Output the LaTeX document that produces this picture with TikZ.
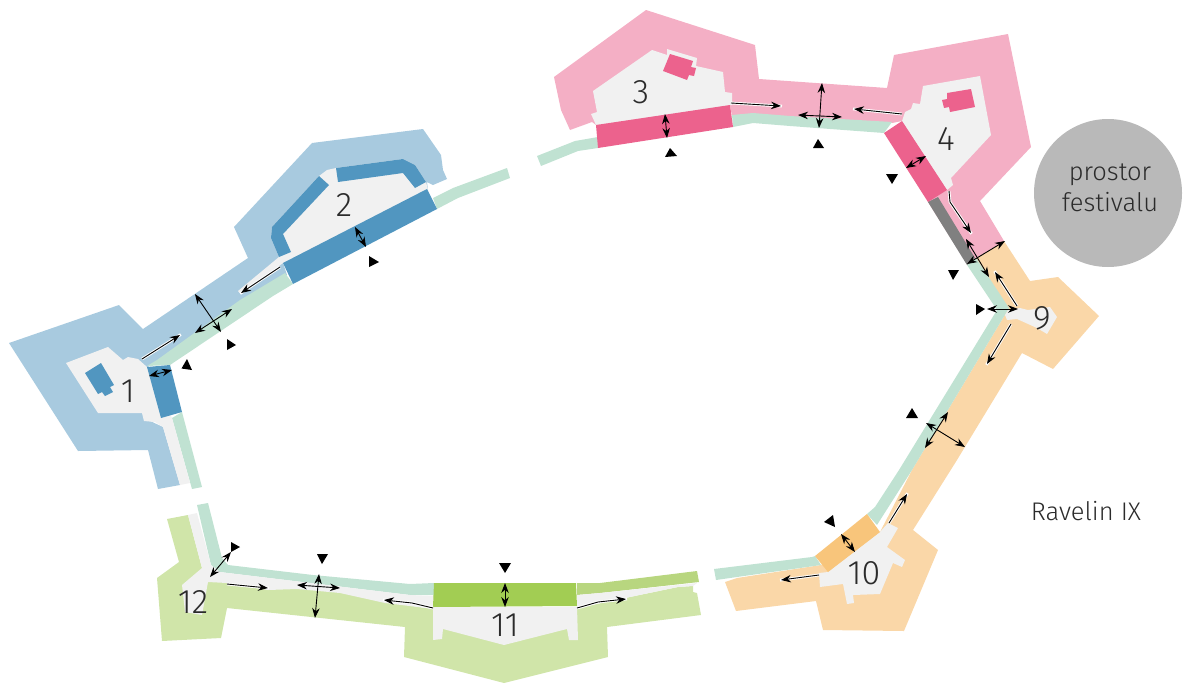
\documentclass[tikz,border=0pt]{standalone}
\usepackage{fontspec}
\setmainfont{Fira Sans}[UprightFont=* Light]
\usetikzlibrary{arrows.meta}
\definecolor{lblue}{HTML}{A8CADF}\definecolor{dblue}{HTML}{5196C0}
\definecolor{lpink}{HTML}{F4AFC5}\definecolor{dpink}{HTML}{EC628D}
\definecolor{lorange}{HTML}{FAD7A8}\definecolor{dorange}{HTML}{F8C57B}
\definecolor{lgreen}{HTML}{D0E5A9}\definecolor{mgreen}{HTML}{B8D67F}\definecolor{dgreen}{HTML}{A2CD53}
\definecolor{teal1}{HTML}{C0E2D2}\definecolor{yard}{HTML}{F1F1F1}\definecolor{wallgrey}{HTML}{808080}
\definecolor{festgrey}{HTML}{B9B9B9}\definecolor{txt}{HTML}{2B2B2B}
\tikzset{
  both/.style={line width=0.9pt,{Stealth[length=10pt,width=7.5pt]}-{Stealth[length=10pt,width=7.5pt]}},
  one/.style={line width=0.9pt,-{Stealth[length=10pt,width=7.5pt]},preaction={draw=white,line width=2.8pt,-,shorten >=-1pt}},
  mark tri/.style={fill=black,draw=none},
  num/.style={text=txt,font=\fontsize{34}{34}\selectfont,inner sep=0pt},
  lab/.style={text=txt,font=\fontsize{25.5}{31}\selectfont,inner sep=0pt,align=center}
}
\begin{document}
\begin{tikzpicture}[x=1pt,y=-1pt]
\useasboundingbox (0,0) rectangle (1186,683);
% light fortification masses
\fill[lblue] (9,343)--(119,305)--(143,329)--(248,258)--(234,227)--(312,143)--(423,129)--(441,155)--(443,170)--(447,179)--(433,185)--(427,182)--(428,190)--(283,263)--(287,275)--(240,302)--(148,367)--(148,420)--(163,427)--(180,485)--(158,489)--(148,450)--(78,451)--cycle;
\fill[lpink] (554,77)--(646,10)--(755,45)--(759,79)--(887,88)--(894,55)--(1008,34)--(1031,147)--(980,201)--(1004,241)--(967,264)--(928,202)--(902,121)--(892,123)--(790,117)--(753,114)--(732,116)--(730,105)--(596,125)--(592,122)--(570,130)--(561,110)--cycle;
\fill[lorange] (1004,241)--(1030,281)--(1058,277)--(1099,316)--(1053,369)--(1022,353)--(957,460)--(913,530)--(938,550)--(904,631)--(823,630)--(816,601)--(736,611)--(725,582)--(737,578)--(821,565)--(880,532)--(912,470)--(1003,318)--(1008,308)--(967,264)--cycle;
\fill[lgreen] (167,519)--(188,515)--(202,568)--(208,582)--(227,582)--(268,589)--(297,588)--(340,592)--(385,602)--(433,609)--(577,608)--(678,587)--(693,586)--(693,592)--(697,593)--(701,615)--(607,627)--(608,657)--(504,683)--(404,657)--(405,627)--(227,608)--(221,638)--(162,641)--(157,578)--(179,562)--cycle;
% teal strips
\fill[teal1] (147,366)--(157,360)--(240,300)--(285,273)--(293,284)--(273,296)--(170,365)--cycle;
\fill[teal1] (172,418)--(182,412)--(202,487)--(192,489)--cycle;
\fill[teal1] (433,198)--(453,188)--(507,168)--(510,178)--(458,198)--(437,209)--cycle;
\fill[teal1] (537,156)--(575,141)--(598,137)--(598,148)--(578,151)--(541,166)--cycle;
\fill[teal1] (732,115)--(753,113)--(790,116)--(892,122)--(884,133)--(790,126)--(753,123)--(733,127)--cycle;
\fill[teal1] (967,265)--(976,258)--(1009,308)--(1003,318)--(912,470)--(877,525)--(867,514)--(875,507)--(899,470)--(997,310)--cycle;
\fill[teal1] (714,569)--(812,557)--(815,556)--(821,565)--(716,580)--cycle;
\fill[teal1] (197,505)--(208,503)--(222,558)--(228,565)--(313,575)--(410,584)--(434,583)--(434,595)--(410,595)--(228,573)--(220,572)--(211,565)--cycle;
\fill[mgreen] (577,583)--(600,583)--(697,571)--(699,582)--(600,593)--(577,595)--cycle;
% yards
\fill[yard] (66,363)--(108,347)--(123,360)--(128,357)--(138,359)--(147,367)--(172,418)--(190,483)--(180,485)--(163,427)--(155,422)--(144,421)--(142,413)--(98,413)--cycle;
\fill[yard] (279,257)--(271,238)--(272,227)--(319,176)--(327,170)--(336,168)--(403,159)--(415,165)--(426,182)--(428,190)--(283,263)--(270,273)--(241,294)--(238,291)--cycle;
\fill[yard] (593,91)--(652,50)--(667,55)--(667,49)--(697,58)--(696,66)--(723,72)--(725,92)--(732,93)--(732,105)--(596,125)--(591,114)--(597,112)--cycle;
\fill[yard] (923,86)--(980,76)--(991,135)--(951,178)--(953,185)--(947,190)--(902,121)--(905,112)--(911,109)--(913,103)--(920,104)--cycle;
\fill[yard] (1005,315)--(1008,310)--(1020,308)--(1028,310)--(1050,307)--(1057,317)--(1047,334)--(1037,328)--(1017,319)--(1007,320)--cycle;
\fill[yard] (828,572)--(880,532)--(888,523)--(898,528)--(887,547)--(905,560)--(902,567)--(893,563)--(880,594)--(853,595)--(854,603)--(847,604)--(843,584)--(820,587)--(819,573)--cycle;
\fill[yard] (433,607)--(577,607)--(578,640)--(569,640)--(567,629)--(504,645)--(443,629)--(442,639)--(433,640)--cycle;
\fill[yard] (188,515)--(197,513)--(211,565)--(220,572)--(228,573)--(410,595)--(434,596)--(434,609)--(385,603)--(340,593)--(297,589)--(268,590)--(227,583)--(208,582)--(202,615)--(185,612)--(182,585)--(202,568)--cycle;
\fill[yard] (577,595)--(600,593)--(697,583)--(693,586)--(678,587)--(577,608)--cycle;
% dark ramparts
\fill[dblue] (147,367)--(170,365)--(182,412)--(161,418)--cycle;
\fill[dblue] (85,373)--(101,363)--(114,385)--(110,387)--(113,392)--(105,396)--(102,392)--(98,394)--cycle;
\fill[dblue] (283,263)--(427,189)--(437,209)--(293,284)--cycle;
\fill[dblue] (319,176)--(329,185)--(283,234)--(291,252)--(279,257)--(271,238)--(272,227)--cycle;
\fill[dblue] (336,168)--(403,159)--(415,165)--(426,182)--(415,188)--(403,173)--(338,182)--cycle;
\fill[dpink] (596,125)--(730,105)--(733,127)--(598,148)--cycle;
\fill[dpink] (670,54)--(693,61)--(691,67)--(696,68)--(694,76)--(689,75)--(687,80)--(663,71)--cycle;
\fill[dpink] (884,133)--(902,121)--(947,190)--(928,202)--cycle;
\fill[dpink] (947,93)--(971,89)--(975,107)--(950,112)--(949,107)--(944,108)--(942,100)--(947,99)--cycle;
\fill[wallgrey] (928,202)--(938,197)--(975,258)--(967,265)--cycle;
\fill[dorange] (815,556)--(867,514)--(880,532)--(828,572)--cycle;
\fill[dgreen] (434,583)--(576,583)--(577,606)--(433,607)--cycle;
% festival circle
\node[circle,fill=festgrey,minimum size=148pt,inner sep=0pt] (fest) at (1108,193) {};
% arrows
\draw[one] (142,359)--(180,335);
\draw[one] (280,267)--(241,293);
\draw[one] (731,103)--(781,106);
\draw[one] (902,114)--(854,109);
\draw[one] (949,191)--(950,202)--(971,233);
\draw[one] (1017,306)--(995,272);
\draw[one] (1011,324)--(987,364);
\draw[one] (819,575)--(781,580);
\draw[one] (889,523)--(907,494);
\draw[one] (433,608)--(412,603)--(384,600);
\draw[one] (577,608)--(598,602)--(626,599);
\draw[one] (227,584)--(268,588);
\draw[both] (149,376)--(172,370);
\draw[both] (195,294)--(221,332);
\draw[both] (195,333)--(232,309);
\draw[both] (355,227)--(366,247);
\draw[both] (665,114)--(667,138);
\draw[both] (822,83)--(819,128);
\draw[both] (798,115)--(842,117);
\draw[both] (906,168)--(926,156);
\draw[both] (966,239)--(989,277);
\draw[both] (967,264)--(1005,241);
\draw[both] (987,309)--(1018,309);
\draw[both] (948,412)--(925,448);
\draw[both] (926,423)--(965,447);
\draw[both] (841,534)--(855,552);
\draw[both] (505,583)--(505,607);
\draw[both] (210,577)--(231,552);
\draw[both] (319,574)--(315,618);
\draw[both] (297,585)--(340,588);
% viewpoint triangles
\fill[mark tri] (187,359)--(192,370)--(181.5,368.5)--cycle;
\fill[mark tri] (227,339)--(236,345)--(227,350)--cycle;
\fill[mark tri] (369,256)--(379,262)--(369,267)--cycle;
\fill[mark tri] (670,148)--(677,156)--(665,157)--cycle;
\fill[mark tri] (818,139)--(824,148)--(813,148)--cycle;
\fill[mark tri] (886,174)--(898,174)--(892,184)--cycle;
\fill[mark tri] (948,270)--(959,270)--(953,280)--cycle;
\fill[mark tri] (976,304)--(985,309)--(976,315)--cycle;
\fill[mark tri] (912,408)--(918,418)--(906,418)--cycle;
\fill[mark tri] (824,522)--(833,515)--(835,527)--cycle;
\fill[mark tri] (499,563)--(511,563)--(505,573)--cycle;
\fill[mark tri] (317,554)--(328,554)--(322,564)--cycle;
\fill[mark tri] (231,542)--(240,547)--(231,552)--cycle;
% labels
\node[num] (n1) at (128,391) {1};
\node[num] (n2) at (344,205) {2};
\node[num] (n3) at (641,92) {3};
\node[num] (n4) at (946,139) {4};
\node[num] (n9) at (1042,318) {9};
\node[num] (n10) at (864,573) {10};
\node[num] (n11) at (505,625) {11};
\node[num] (n12) at (193,602) {12};
\node[lab] (festl) at (1110,188) {prostor\\festivalu};
\node[lab] (rav) at (1086,511) {Ravelin IX};
\end{tikzpicture}
\end{document}
